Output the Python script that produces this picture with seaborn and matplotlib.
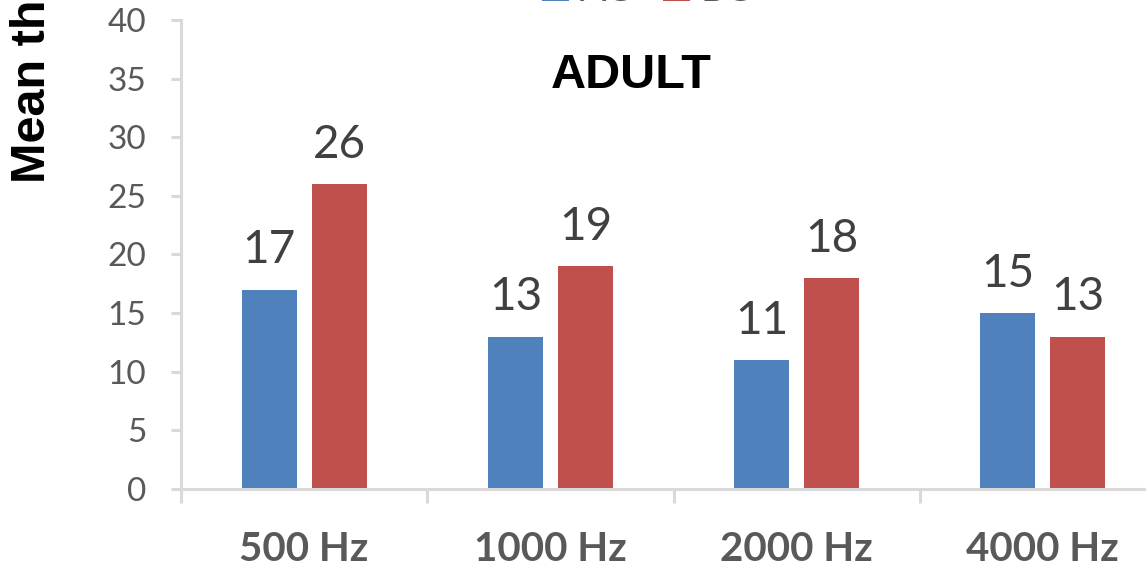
import matplotlib
matplotlib.use("Agg")
import matplotlib.pyplot as plt
import seaborn as sns
import pandas as pd
from matplotlib.ticker import MultipleLocator, FixedLocator

# Mean hearing thresholds for the adult group, by test frequency
frequencies = ["500 Hz", "1000 Hz", "2000 Hz", "4000 Hz"]
series_names = ["AC", "BC"]
ac_values = [17, 13, 11, 15]
bc_values = [26, 19, 18, 13]

df = pd.DataFrame({
    "frequency": frequencies * 2,
    "series": [series_names[0]] * 4 + [series_names[1]] * 4,
    "value": ac_values + bc_values,
})

sns.set_theme(style="white")
plt.rcParams["font.family"] = ["Lato", "DejaVu Sans"]

W, H = 1146, 569
fig = plt.figure(figsize=(W / 100, H / 100), dpi=100)
# axes extend past the right edge so the last group sits near the border
ax = fig.add_axes([181 / W, 80 / H, 985 / W, 469 / H])

palette = {"AC": "#4F81BD", "BC": "#C0504D"}
sns.barplot(data=df, x="frequency", y="value", hue="series", order=frequencies,
            hue_order=series_names, palette=palette, width=0.569, gap=0.214,
            saturation=1, edgecolor="none", ax=ax)

handles, labels = ax.get_legend_handles_labels()
if ax.get_legend() is not None:
    ax.get_legend().remove()

# value labels above each bar
for container in ax.containers:
    for bar in container:
        h = bar.get_height()
        ax.annotate(f"{h:.0f}", (bar.get_x() + bar.get_width() / 2, h),
                    xytext=(0, 19), textcoords="offset points",
                    ha="center", va="baseline", fontsize=33, color="#404040")

ax.set_ylim(0, 40)
ax.set_xlim(-0.5, 3.5)
ax.yaxis.set_major_locator(MultipleLocator(5))
ax.set_xlabel("")
ax.set_ylabel("")

grey_axis = "#D9D9D9"
for side in ("top", "right"):
    ax.spines[side].set_visible(False)
for side in ("left", "bottom"):
    ax.spines[side].set_color(grey_axis)
    ax.spines[side].set_linewidth(2.2)

ax.tick_params(axis="y", which="major", length=7, width=2.2, color=grey_axis,
               labelsize=24, labelcolor="#595959", pad=18, left=True)
ax.xaxis.set_minor_locator(FixedLocator([-0.5, 0.5, 1.5, 2.5, 3.5]))
ax.tick_params(axis="x", which="minor", length=10, width=2.2, color=grey_axis,
               bottom=True)
ax.tick_params(axis="x", which="major", length=0, labelsize=29,
               labelcolor="#595959", pad=30)
for lbl in ax.get_xticklabels():
    lbl.set_fontweight("bold")

fig.text(631 / W, 1 - 75 / H, "ADULT", ha="center", va="center",
         fontsize=35, fontweight="bold", color="black",
         family=["Liberation Sans", "DejaVu Sans"])

fig.text(33 / W, 1 - 183 / H, "Mean threshold (dB)", rotation=90,
         ha="center", va="bottom", fontsize=35, fontweight="bold",
         color="black", family=["Liberation Sans", "DejaVu Sans"])

fig.legend(handles, labels, loc="lower left",
           bbox_to_anchor=(542 / W, 1 - 8 / H), ncol=2, frameon=False,
           fontsize=28, labelcolor="#595959", handlelength=0.69,
           handleheight=0.7, columnspacing=0.8, handletextpad=0.28,
           borderpad=0, borderaxespad=0)

fig.savefig("out.png", dpi=100)
